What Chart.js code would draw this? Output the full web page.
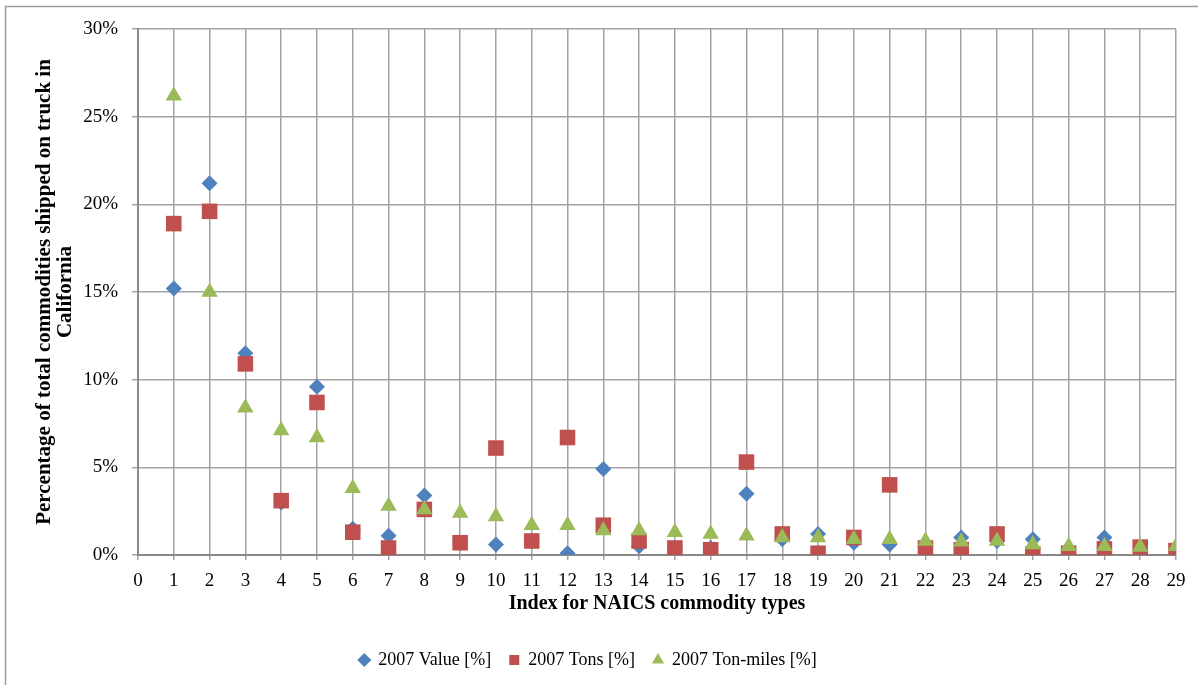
<!DOCTYPE html>
<html>
<head>
<meta charset="utf-8">
<script src="https://cdn.jsdelivr.net/npm/chart.js@4/dist/chart.umd.min.js"></script>
<style>
	html, body { margin: 0; padding: 0; background: #fff; }
	#container { position: relative; width: 1198px; height: 685px; }
</style>
</head>
<body>
<div id="container"><canvas id="scatter-chart"></canvas></div>
<script>
// Index for NAICS commodity types
const commodityIndex = [1, 2, 3, 4, 5, 6, 7, 8, 9, 10, 11, 12, 13, 14, 15, 16, 17, 18, 19, 20, 21, 22, 23, 24, 25, 26, 27, 28, 29];

// Shares in percent
const value2007 = [15.2, 21.2, 11.5, 3.0, 9.6, 1.5, 1.1, 3.4, 0.7, 0.6, 0.8, 0.1, 4.9, 0.5, 0.4, 0.4, 3.5, 0.9, 1.2, 0.7, 0.6, 0.5, 1.0, 0.8, 0.9, 0.3, 1.0, 0.2, 0.3];
const tons2007 = [18.9, 19.6, 10.9, 3.1, 8.7, 1.3, 0.4, 2.6, 0.7, 6.1, 0.8, 6.7, 1.7, 0.8, 0.4, 0.3, 5.3, 1.2, 0.1, 1.0, 4.0, 0.4, 0.3, 1.2, 0.05, 0.1, 0.35, 0.45, 0.25];
const tonMiles2007 = [26.2, 15.0, 8.4, 7.1, 6.7, 3.8, 2.8, 2.6, 2.4, 2.2, 1.7, 1.7, 1.4, 1.4, 1.3, 1.2, 1.1, 1.0, 1.0, 0.9, 0.9, 0.8, 0.75, 0.8, 0.6, 0.5, 0.5, 0.45, 0.5];

const seriesLabels = ["2007 Value [%]", "2007 Tons [%]", "2007 Ton-miles [%]"];

function toPoints(values) {
	return commodityIndex.map((x, i) => ({ x: x, y: values[i] }));
}

// cadre du graphique (bord haut et gauche seulement visibles)
const frameBorder = {
	id: "frameBorder",
	beforeDraw(chart) {
		const ctx = chart.ctx;
		ctx.save();
		ctx.strokeStyle = "#9a9a9a";
		ctx.lineWidth = 1.5;
		ctx.strokeRect(5.5, 6.5, 1200, 690);
		ctx.restore();
	},
};

const serif = "'Liberation Serif', 'Times New Roman', serif";
const gridColor = "#a3a3a3";

const canvas = document.getElementById("scatter-chart");
const ctx = canvas.getContext("2d");
new Chart(ctx, {
	type: "scatter",
	data: {
		datasets: [
			{
				label: seriesLabels[0],
				data: toPoints(value2007),
				order: 2,
				pointStyle: "rectRot",
				pointRadius: 8,
				pointHoverRadius: 8,
				backgroundColor: "#4f81bd",
				borderColor: "#4f81bd",
				borderWidth: 0,
			},
			{
				label: seriesLabels[1],
				data: toPoints(tons2007),
				order: 1,
				pointStyle: "rect",
				pointRadius: 11,
				pointHoverRadius: 11,
				backgroundColor: "#c0504d",
				borderColor: "#c0504d",
				borderWidth: 0,
			},
			{
				label: seriesLabels[2],
				data: toPoints(tonMiles2007),
				order: 0,
				pointStyle: "triangle",
				pointRadius: 9.5,
				pointHoverRadius: 9.5,
				backgroundColor: "#9bbb59",
				borderColor: "#9bbb59",
				borderWidth: 0,
			},
		],
	},
	options: {
		responsive: true,
		maintainAspectRatio: false,
		animation: false,
		layout: { padding: { top: 29, right: 22, bottom: 6, left: 0 } },
		plugins: {
			tooltip: { enabled: false },
			legend: {
				position: "bottom",
				labels: {
					usePointStyle: true,
					boxWidth: 10,
					boxHeight: 10,
					padding: 18,
					color: "#000",
					font: { family: serif, size: 18 },
					sort: (a, b) => a.datasetIndex - b.datasetIndex,
				},
			},
		},
		scales: {
			x: {
				type: "linear",
				min: 0,
				max: 29,
				afterFit: (axis) => { axis.height = 78; },
				ticks: {
					stepSize: 1,
					padding: 10,
					color: "#000",
					font: { family: serif, size: 19 },
				},
				grid: { color: gridColor, lineWidth: 1.5, tickLength: 5 },
				border: { color: "#888", width: 2 },
				title: {
					display: true,
					text: "Index for NAICS commodity types",
					color: "#000",
					font: { family: serif, size: 20, weight: "bold" },
					padding: { top: 0, bottom: 17 },
				},
			},
			y: {
				min: 0,
				max: 30,
				afterFit: (axis) => { axis.width = 138; },
				ticks: {
					stepSize: 5,
					padding: 14,
					color: "#000",
					font: { family: serif, size: 19 },
					callback: (value) => value + "%",
				},
				grid: { color: gridColor, lineWidth: 1.5, tickLength: 6 },
				border: { color: "#888", width: 2 },
				title: {
					display: true,
					text: ["Percentage of total commodities shipped on truck in", "California"],
					color: "#000",
					font: { family: serif, size: 21, weight: "bold", lineHeight: 1 },
					padding: { top: 34.5, bottom: 0 },
				},
			},
		},
	},
	plugins: [frameBorder],
});
</script>
</body>
</html>
